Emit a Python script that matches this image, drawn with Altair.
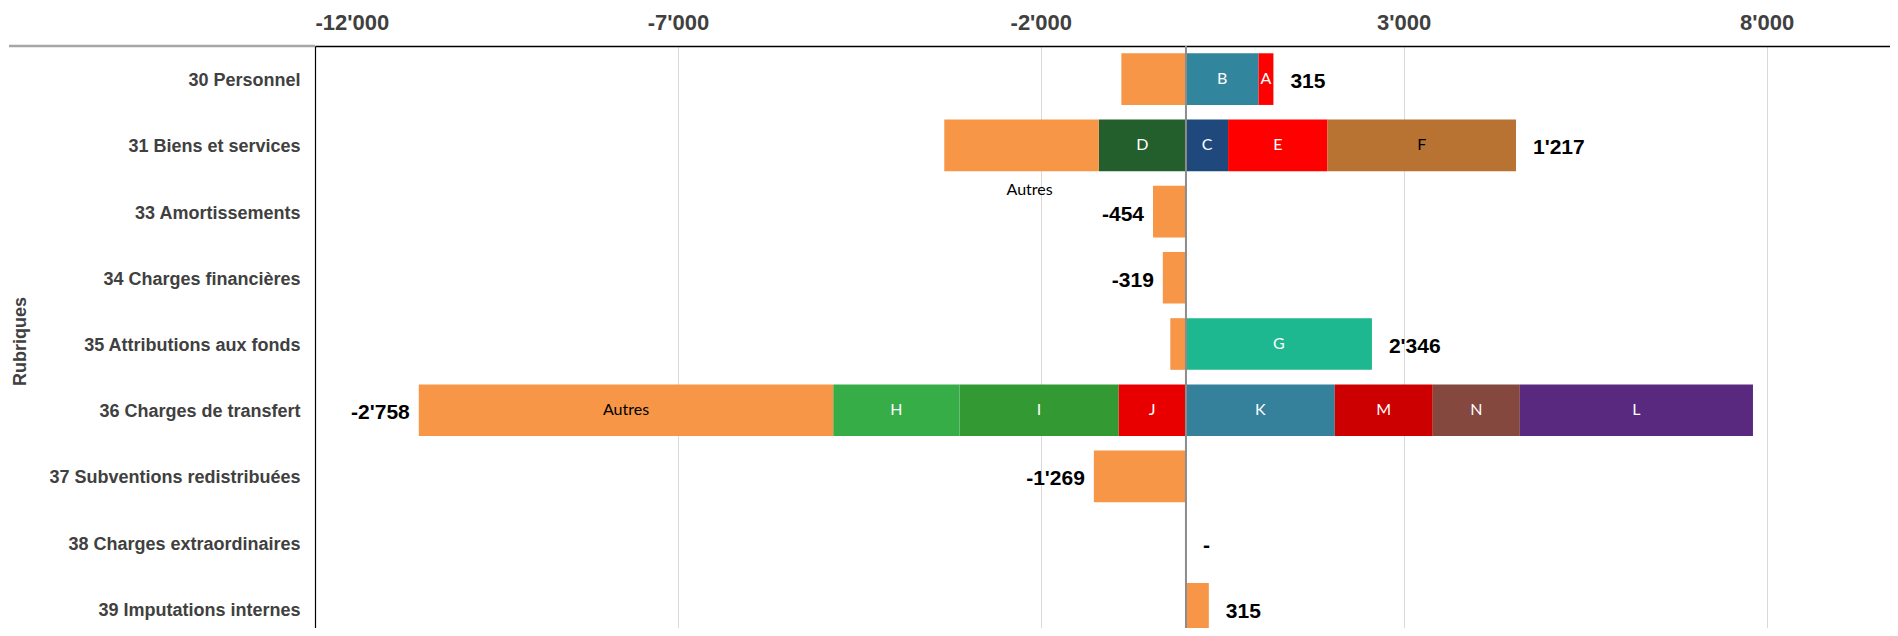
import altair as alt
import pandas as pd

# ---------------- data ----------------
rubriques = [
    "30 Personnel",
    "31 Biens et services",
    "33 Amortissements",
    "34 Charges financières",
    "35 Attributions aux fonds\u00a0",
    "36 Charges de transfert",
    "37 Subventions redistribuées",
    "38 Charges extraordinaires",
    "39 Imputations internes",
]

# segments, listed per rubrique from zero outward on each side
seg_rubrique = [
    "30 Personnel", "30 Personnel", "30 Personnel",
    "31 Biens et services", "31 Biens et services", "31 Biens et services",
    "31 Biens et services", "31 Biens et services",
    "33 Amortissements",
    "34 Charges financières",
    "35 Attributions aux fonds\u00a0", "35 Attributions aux fonds\u00a0",
    "36 Charges de transfert", "36 Charges de transfert", "36 Charges de transfert",
    "36 Charges de transfert", "36 Charges de transfert", "36 Charges de transfert",
    "36 Charges de transfert", "36 Charges de transfert",
    "37 Subventions redistribuées",
    "39 Imputations internes",
]
seg_key = ["Autres", "B", "A",
           "D", "Autres", "C", "E", "F",
           "Autres",
           "Autres",
           "Autres", "G",
           "J", "I", "H", "Autres", "K", "M", "N", "L",
           "Autres",
           "Autres"]
seg_value = [-890, 1000, 205,
             -1200, -2130, 580, 1370, 2597,
             -454,
             -319,
             -216, 2562,
             -930, -2190, -1740, -5710, 2050, 1350, 1200, 3212,
             -1269,
             315]
seg_text = ["", "B", "A",
            "D", "", "C", "E", "F",
            "",
            "",
            "", "G",
            "J", "I", "H", "Autres", "K", "M", "N", "L",
            "",
            ""]

totals = [315, 1217, -454, -319, 2346, -2758, -1269, 0, 315]
total_labels = ["315", "1'217", "-454", "-319", "2'346", "-2'758", "-1'269", "-", "315"]

outside_rubrique = ["31 Biens et services"]
outside_text = ["Autres"]

tick_values = [-12000, -7000, -2000, 3000, 8000]
tick_labels = ["-12'000", "-7'000", "-2'000", "3'000", "8'000"]

key_domain = ["Autres", "A", "B", "C", "D", "E", "F", "G", "H", "I", "J", "K", "L", "M", "N"]
key_colors = ["#F79646", "#FF0000", "#31859C", "#1F497D", "#235F2C", "#FF0000", "#B87333",
              "#1DB88F", "#37AD48", "#339933", "#E80000", "#35809A", "#59297F", "#CC0000", "#84483F"]
dark_text_keys = ["Autres", "F"]

# ---------------- tables ----------------
pos_cum = {r: 0 for r in rubriques}
neg_cum = {r: 0 for r in rubriques}
rows = []
for r, k, v, t in zip(seg_rubrique, seg_key, seg_value, seg_text):
    if v >= 0:
        s = pos_cum[r]; e = s + v; pos_cum[r] = e
    else:
        s = neg_cum[r]; e = s + v; neg_cum[r] = e
    rows.append({"rubrique": r, "key": k, "start": s, "end": e, "mid": (s + e) / 2,
                 "text": t, "tcolor": "black" if k in dark_text_keys else "white"})
df = pd.DataFrame(rows)

tot_df = pd.DataFrame({
    "rubrique": rubriques,
    "total": totals,
    "label": total_labels,
    "anchor": [pos_cum[r] if t >= 0 else neg_cum[r] for r, t in zip(rubriques, totals)],
})

out_rows = []
for r, t in zip(outside_rubrique, outside_text):
    seg = df[(df.rubrique == r) & (df.key == "Autres")].iloc[0]
    out_rows.append({"rubrique": r, "mid": seg["mid"], "text": t})
out_df = pd.DataFrame(out_rows)

# ---------------- chart ----------------
label_expr = " : ".join(
    f"datum.value == {v} ? \"{l}\"" for v, l in zip(tick_values, tick_labels)
) + " : ''"

xscale = alt.Scale(domain=[-12000, 9700], nice=False, zero=False)
yscale = alt.Scale(domain=rubriques, range=[0, 596], paddingInner=0.22, paddingOuter=0.11)

x_axis = alt.Axis(
    orient="top", values=tick_values, labelExpr=label_expr, title=None,
    labelFont="Liberation Sans", labelFontSize=22, labelFontWeight="bold", labelColor="#404040",
    ticks=False, labelPadding=12, domain=True, domainColor="black", domainWidth=1.5,
    grid=True, gridColor="#d9d9d9", gridWidth=1,
)
y_axis = alt.Axis(
    title="Rubriques", titleFont="Liberation Sans", titleFontSize=18, titleFontWeight="bold",
    titleColor="#404040", titleAngle=270, titleX=-295, titleY=295, titleAlign="center",
    titleBaseline="middle",
    labelFont="Liberation Sans", labelFontSize=18, labelFontWeight="bold", labelColor="#404040",
    labelPadding=15, labelLimit=500, labelOffset=2, ticks=False, domain=True, domainColor="black",
    domainWidth=1.2, grid=False,
)


def Y():
    return alt.Y("rubrique:N", scale=yscale, axis=y_axis, sort=rubriques)


def X(field):
    return alt.X(field, scale=xscale, axis=x_axis)


bars = alt.Chart(df).mark_bar().encode(
    y=Y(),
    x=X("start:Q"),
    x2="end:Q",
    color=alt.Color("key:N", scale=alt.Scale(domain=key_domain, range=key_colors), legend=None),
)

inner = alt.Chart(df).transform_filter("datum.text != ''").mark_text(
    font="Lato", fontSize=16, baseline="middle", align="center"
).encode(
    y=Y(),
    x=X("mid:Q"),
    text="text:N",
    color=alt.Color("tcolor:N", scale=None),
)

outside = alt.Chart(out_df).mark_text(
    font="Lato", fontSize=16, baseline="middle", align="center", dy=45, dx=8, color="black"
).encode(
    y=Y(),
    x=X("mid:Q"),
    text="text:N",
)

tot_pos = alt.Chart(tot_df).transform_filter("datum.total >= 0").mark_text(
    font="Liberation Sans", fontSize=21, fontWeight="bold", color="black",
    align="left", baseline="middle", dx=17, dy=3
).encode(
    y=Y(),
    x=X("anchor:Q"),
    text="label:N",
)

tot_neg = alt.Chart(tot_df).transform_filter("datum.total < 0").mark_text(
    font="Liberation Sans", fontSize=21, fontWeight="bold", color="black",
    align="right", baseline="middle", dx=-9, dy=3
).encode(
    y=Y(),
    x=X("anchor:Q"),
    text="label:N",
)

zero_rule = alt.Chart(pd.DataFrame({"x": [0]})).mark_rule(color="#8c8c8c", strokeWidth=2).encode(
    x=X("x:Q"),
    y=alt.value(0),
    y2=alt.value(596),
)

left_line = alt.Chart(pd.DataFrame({"x": [0]})).mark_rule(color="#a6a6a6", strokeWidth=2.5).encode(
    x=alt.value(-306), x2=alt.value(0), y=alt.value(0)
)

chart = alt.layer(bars, inner, outside, tot_pos, tot_neg, zero_rule, left_line).properties(
    width=1575, height=582,
    autosize=alt.AutoSizeParams(type="none"),
    padding={"left": 307, "top": 38, "right": 0, "bottom": 0},
).configure_view(stroke=None).resolve_scale(color="independent")

chart.save("out.html", embed_options={"renderer": "svg", "actions": False})
